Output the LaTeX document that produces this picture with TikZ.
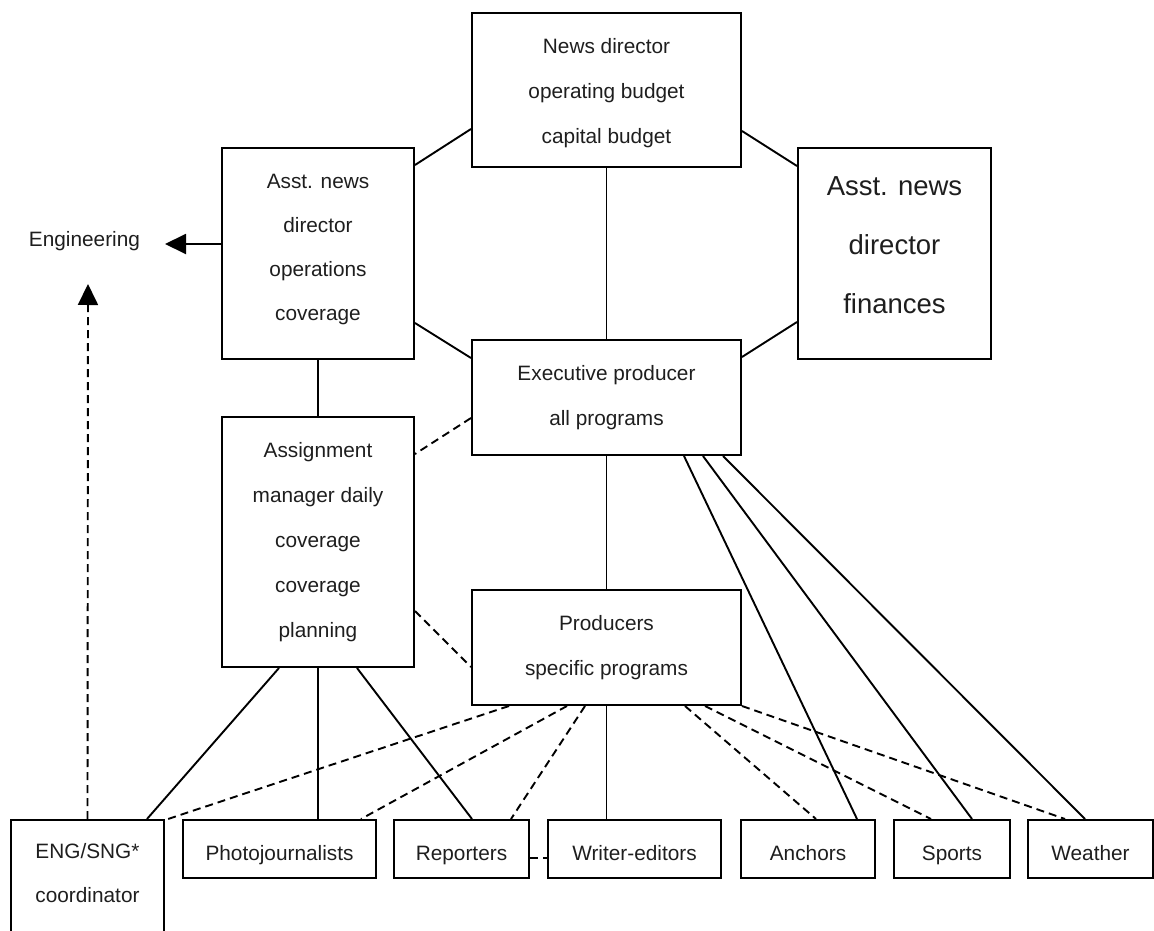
\documentclass[tikz,border=0pt]{standalone}
\usepackage{fontspec}
\setmainfont{Liberation Sans}
\usetikzlibrary{calc,arrows.meta}
\definecolor{txt}{HTML}{1E1E1E}

\begin{document}
\begin{tikzpicture}[x=1pt,y=-1pt,
  box/.style={draw, line width=2pt, align=center, inner sep=0pt, text=txt,
    font=\fontsize{20.8}{45}\selectfont},
  unit/.style={box, minimum height=58pt, text height=26pt, text depth=4pt},
  link/.style={line width=1.9pt},
  dlink/.style={line width=1.9pt, dash pattern=on 8pt off 5pt},
  tip/.style={-{Triangle[length=21pt,width=20pt]}}]
\useasboundingbox (0,0) rectangle (1154,931);
% management boxes
\node[box, minimum width=269pt, minimum height=154pt] (nd) at (606.5,90) {\rule{0pt}{21pt}News director\\operating budget\\capital budget};
\node[box, minimum width=192pt, minimum height=211pt, font=\fontsize{20.8}{44}\selectfont] (ao) at (318,253.5) {Asst. news\\director\\operations\\coverage\rule[-13pt]{0pt}{13pt}};
\node[box, minimum width=193pt, minimum height=211pt, font=\fontsize{27.5}{59}\selectfont] (af) at (894.5,253.5) {Asst. news\\director\\finances\rule[-16pt]{0pt}{16pt}};
\node[box, minimum width=269pt, minimum height=115pt] (ep) at (606.5,397.5) {Executive producer\\all programs};
\node[box, minimum width=192pt, minimum height=250pt] (am) at (318,542) {Assignment\\manager daily\\coverage\\coverage\\planning};
\node[box, minimum width=269pt, minimum height=115pt] (pr) at (606.5,647.5) {Producers\\specific programs};
\node[text=txt, font=\fontsize{20.8}{24}\selectfont, inner sep=0pt] (engr) at (84.5,241) {Engineering};
% staff row
\node[box, minimum width=153pt, minimum height=114pt, font=\fontsize{20.8}{44}\selectfont] (eng) at (87.5,877) {ENG/SNG*\\coordinator\rule[-8pt]{0pt}{8pt}};
\node[unit, minimum width=193pt] (pj) at (279.5,849) {Photojournalists};
\node[unit, minimum width=135pt] (rep) at (461.5,849) {Reporters};
\node[unit, minimum width=173pt] (we) at (634.5,849) {Writer-editors};
\node[unit, minimum width=134pt] (anc) at (808,849) {Anchors};
\node[unit, minimum width=116pt] (spo) at (952,849) {Sports};
\node[unit, minimum width=125pt] (wea) at (1090.5,849) {Weather};
\coordinate (toeng) at (165,244);
\coordinate (upeng) at (88,284);

% octagon round the top
\draw[link] ($(ao.north east)+(0,18)$) -- ($(nd.south west)+(0,-39)$);
\draw[link] ($(ao.south east)+(0,-37)$) -- ($(ep.north west)+(0,19)$);
\draw[link] ($(nd.south east)+(0,-37)$) -- ($(af.north west)+(0,19)$);
\draw[link] ($(ep.north east)+(0,18)$) -- ($(af.south west)+(0,-38)$);
\draw[link] (nd.south) -- (ep.north);
\draw[link] (ao.south) -- (am.north);
\draw[link] (ep.south) -- (pr.north);
\draw[dlink] ($(ep.south west)+(0,-38)$) -- ($(am.north east)+(0,38)$);
\draw[dlink] ($(am.south east)+(0,-57)$) -- ($(pr.south west)+(0,-39)$);
% engineering
\draw[link, tip] ([yshift=9.5pt]ao.west) -- (toeng);
\draw[dlink, tip] (eng.north) -- (upeng);
% assignment manager to staff
\draw[link] ($(am.south)+(-39,0)$) -- ($(eng.north east)+(-18,0)$);
\draw[link] (am.south) -- (am.south |- pj.north);
\draw[link] ($(am.south)+(39,0)$) -- ($(rep.north)+(10.5,0)$);
% executive producer to talent
\draw[link] ($(ep.south east)+(-58,0)$) -- ($(anc.north east)+(-19,0)$);
\draw[link] ($(ep.south east)+(-39,0)$) -- ($(spo.north east)+(-39,0)$);
\draw[link] ($(ep.south east)+(-19,0)$) -- ($(wea.north west)+(58,0)$);
% producers to staff
\draw[dlink] ($(pr.south west)+(38,0)$) -- ($(eng.north east)+(3,0)$);
\draw[dlink] ($(pr.south west)+(96,0)$) -- ($(pj.north east)+(-16,0)$);
\draw[dlink] ($(pr.south west)+(114,0)$) -- ($(rep.north east)+(-19,0)$);
\draw[link] (pr.south) -- (pr.south |- we.north);
\draw[dlink] ($(pr.south east)+(-57,0)$) -- ($(anc.north west)+(76,0)$);
\draw[dlink] ($(pr.south east)+(-37,0)$) -- ($(spo.north west)+(38,0)$);
\draw[dlink] (pr.south east) -- ($(wea.north west)+(38,0)$);
\draw[dlink] ([yshift=-9pt]rep.east) -- ([yshift=-9pt]we.west);
\end{tikzpicture}
\end{document}
